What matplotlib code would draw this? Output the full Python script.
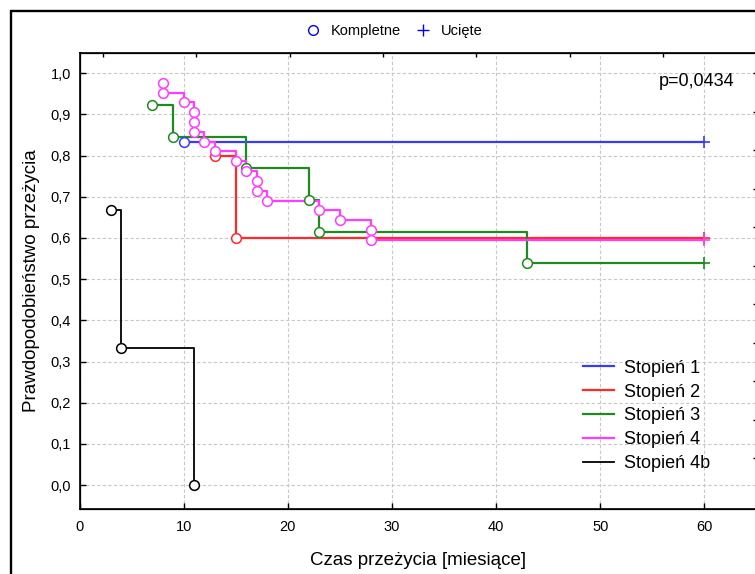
import numpy as np
import matplotlib
matplotlib.use("Agg")
import matplotlib.pyplot as plt
from matplotlib.lines import Line2D
from matplotlib.patches import Rectangle

plt.rcParams["font.family"] = ["Liberation Sans", "DejaVu Sans"]

# ── dane ──────────────────────────────────────────────────────────────────────
groups = ["Stopień 1", "Stopień 2", "Stopień 3", "Stopień 4", "Stopień 4b"]
colors = ["#3a3aff", "#ff2a2a", "#1f8a1f", "#ff3cff", "#000000"]

t_st1 = [10]
s_st1 = [0.833]
t_st2 = [13, 15]
s_st2 = [0.800, 0.600]
t_st3 = [7, 9, 16, 22, 23, 43]
s_st3 = [0.923, 0.846, 0.769, 0.692, 0.615, 0.538]
t_st4 = [8, 8, 10, 11, 11, 11, 12, 13, 15, 16, 17, 17, 18, 23, 25, 28, 28]
s_st4 = [0.976, 0.952, 0.929, 0.905, 0.881, 0.857, 0.833, 0.810, 0.786,
         0.762, 0.738, 0.714, 0.690, 0.667, 0.643, 0.619, 0.595]
t_st4b = [3, 4, 11]
s_st4b = [0.667, 0.333, 0.0]

# czas ostatniej obserwacji uciętej (None = brak)
censor = [60, 60, 60, 60, None]

times = [t_st1, t_st2, t_st3, t_st4, t_st4b]
surv = [s_st1, s_st2, s_st3, s_st4, s_st4b]

xticks = [0, 10, 20, 30, 40, 50, 60]
yticks = [0.0, 0.1, 0.2, 0.3, 0.4, 0.5, 0.6, 0.7, 0.8, 0.9, 1.0]
p_text = "p=0,0434"

# ── rysunek ───────────────────────────────────────────────────────────────────
W, H = 755, 574
fig = plt.figure(figsize=(W / 100, H / 100), dpi=100)
ax = fig.add_axes([79.5 / W, (H - 509) / H, 677 / W, 456.5 / H])

for name, col, t, s, c in zip(groups, colors, times, surv, censor):
    lw = 1.3 if col == "#000000" else 1.6
    xs, ys = list(t), list(s)
    if c is not None:
        xs.append(c)
        ys.append(s[-1])
    ax.plot(xs, ys, drawstyle="steps-post", color=col, lw=lw, label=name,
            zorder=3)
    ax.plot(t, s, ls="none", marker="o", ms=7, mfc="white", mec=col,
            mew=1.1, zorder=4)
    if c is not None:
        ax.plot([c], [s[-1]], ls="none", marker="+", ms=9, mec=col, mew=1.2,
                zorder=4)

ax.set_xlim(0, 65)
ax.set_ylim(-0.058, 1.05)
ax.set_xticks(xticks)
ax.set_yticks(yticks)
ax.set_yticklabels([f"{v:.1f}".replace(".", ",") for v in yticks])
ax.tick_params(direction="in", length=4, width=1, labelsize=10.5,
               top=False, right=False)
ax.tick_params(axis="y", pad=6)
ax.tick_params(axis="x", pad=8)
ax.grid(True, ls=(0, (3, 2)), color="#c8c8c8", lw=0.8, zorder=0)
for sp in ax.spines.values():
    sp.set_linewidth(1.2)

ax.set_xlabel("Czas przeżycia [miesiące]", fontsize=13.5, labelpad=13)
ax.set_ylabel("Prawdopodobieństwo przeżycia", fontsize=13.5, labelpad=8)

# dodatkowe podziałki na górnej i prawej osi (jak w oryginale)
ax_top = ax.twiny()
ax_top.set_xlim(-2.5, 70)
ax_top.set_xticks(np.arange(0, 71, 10))
ax_top.tick_params(direction="in", length=3, width=1, labeltop=False)
ax_right = ax.twinx()
ax_right.set_ylim(-0.132, 1.054)
ax_right.set_yticks(np.arange(0, 1.01, 0.1))
ax_right.tick_params(direction="in", length=3, width=1, labelright=False)

ax.text(62.9, 0.98, p_text, ha="right", va="center", fontsize=13)

ax.legend(loc="upper left", bbox_to_anchor=(0.744, 0.327), frameon=False,
          fontsize=13, handlelength=1.7, handletextpad=0.55,
          labelspacing=0.38, borderpad=0, borderaxespad=0)

# legenda typów obserwacji na górze
h_done = Line2D([], [], ls="none", marker="o", ms=7, mfc="none", mec="blue",
                mew=1.0)
h_cens = Line2D([], [], ls="none", marker="+", ms=9, mec="blue", mew=1.0)
fig.legend([h_done, h_cens], ["Kompletne", "Ucięte"], loc="center",
           bbox_to_anchor=(394 / W, 1 - 31 / H), ncol=2, frameon=False,
           fontsize=10.5, handlelength=1.0, handletextpad=0.72,
           columnspacing=1.0)

# ramka zewnętrzna
fig.add_artist(Rectangle((10.5 / W, -0.1), 1.2, 1.1 - 11 / H,
                         transform=fig.transFigure, fill=False, lw=1.7,
                         ec="black"))

fig.savefig("out.png", dpi=100)
